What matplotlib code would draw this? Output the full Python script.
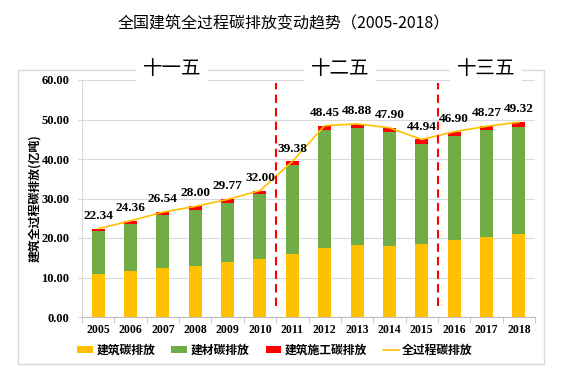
import matplotlib
matplotlib.use("Agg")
import matplotlib.pyplot as plt
import numpy as np
from matplotlib.patches import Patch, Rectangle
from matplotlib.lines import Line2D

years = ["2005", "2006", "2007", "2008", "2009", "2010", "2011",
         "2012", "2013", "2014", "2015", "2016", "2017", "2018"]
building = [10.8, 11.6, 12.4, 13.0, 13.9, 14.7, 15.9, 17.5, 18.3, 18.0, 18.4, 19.5, 20.3, 21.0]
materials = [11.0, 12.0, 13.5, 14.2, 15.0, 16.4, 22.5, 29.9, 29.5, 28.8, 25.5, 26.3, 27.0, 27.1]
construction = [0.54, 0.76, 0.64, 0.8, 0.87, 0.9, 0.98, 1.05, 1.08, 1.1, 1.04, 1.1, 0.97, 1.22]
total = [22.34, 24.36, 26.54, 28.00, 29.77, 32.00, 39.38, 48.45, 48.88, 47.90, 44.94, 46.90, 48.27, 49.32]
periods = ["十一五", "十二五", "十三五"]
period_breaks = [5.5, 10.5]

cjk = ["Noto Sans CJK SC", "DejaVu Sans"]
serif = "Liberation Serif"

fig = plt.figure(figsize=(5.67, 3.76), dpi=100)
ax = fig.add_axes([82 / 567, 1 - 317 / 376, (535 - 82) / 567, (317 - 80) / 376])

# outer light frame
frame = Rectangle((18 / 567, 1 - 364 / 376), (544 - 18) / 567, (364 - 70) / 376,
                  transform=fig.transFigure, fill=False, edgecolor="#D9D9D9", lw=1.0, zorder=0)
fig.patches.append(frame)

x = np.arange(len(years))
w = 0.4
b1 = np.array(building)
b2 = b1 + np.array(materials)
ax.bar(x, building, w, color="#FFC000", zorder=3)
ax.bar(x, materials, w, bottom=b1, color="#70AD47", zorder=3)
ax.bar(x, construction, w, bottom=b2, color="#FF0000", zorder=3)
ax.plot(x, total, color="#FFC000", lw=1.2, zorder=4)

for xi, t in zip(x, total):
    ax.annotate(f"{t:.2f}", (xi, t), xytext=(0, 5), textcoords="offset points",
                ha="center", va="bottom", fontsize=9.5, fontweight="bold",
                family=serif, zorder=5)

for xb in period_breaks:
    ax.plot([xb, xb], [2.8, 59.2], color="#FF0000", lw=1.5, ls=(0, (4, 2.5)), zorder=5)

ax.set_xlim(-0.5, len(years) - 0.5)
ax.set_ylim(0, 60)
ax.set_yticks(np.arange(0, 61, 10))
ax.set_yticklabels([f"{v:.2f}" for v in np.arange(0, 61, 10)])
ax.set_xticks(x)
ax.set_xticklabels(years)
ax.set_xticks(np.arange(-0.5, len(years), 1), minor=True)
ax.tick_params(axis="x", which="major", length=0, pad=5)
ax.tick_params(axis="x", which="minor", length=4, color="#BFBFBF")
ax.tick_params(axis="y", length=3, color="#D9D9D9", pad=6)
for lab in ax.get_xticklabels():
    lab.set_fontfamily(serif)
    lab.set_fontweight("bold")
    lab.set_fontsize(8.5)
for lab in ax.get_yticklabels():
    lab.set_fontfamily(serif)
    lab.set_fontweight("bold")
    lab.set_fontsize(9)

ax.grid(axis="y", color="#D9D9D9", lw=0.8, zorder=0)
ax.set_axisbelow(True)
for s in ["top", "right"]:
    ax.spines[s].set_visible(False)
ax.spines["left"].set_color("#D9D9D9")
ax.spines["bottom"].set_color("#BFBFBF")

fig.text(35 / 567, 1 - 198 / 376, "建筑全过程碳排放(亿吨)", rotation=90, ha="center",
         va="center", fontsize=8.6, fontweight="bold", family=cjk)

fig.text(284 / 567, 1 - 24 / 376, "全国建筑全过程碳排放变动趋势（2005-2018）", ha="center",
         va="center", fontsize=11.5, family=cjk)

for name, px in zip(periods, [172, 340, 486]):
    fig.text(px / 567, 1 - 68 / 376, name, ha="center", va="center", fontsize=14,
             fontweight="medium", family=cjk,
             bbox=dict(facecolor="white", edgecolor="none", pad=5))

handles = [Patch(facecolor="#FFC000"), Patch(facecolor="#70AD47"), Patch(facecolor="#FF0000"),
           Line2D([], [], color="#FFC000", lw=1.2)]
labels = ["建筑碳排放", "建材碳排放", "建筑施工碳排放", "全过程碳排放"]
fig.legend(handles, labels, loc="center", bbox_to_anchor=(275 / 567, 1 - 350 / 376), ncol=4,
           frameon=False, prop=dict(family=cjk, weight="bold", size=8.5),
           handlelength=1.3, handleheight=0.5, handletextpad=0.3, columnspacing=1.4)

fig.savefig("out.png", dpi=100)
